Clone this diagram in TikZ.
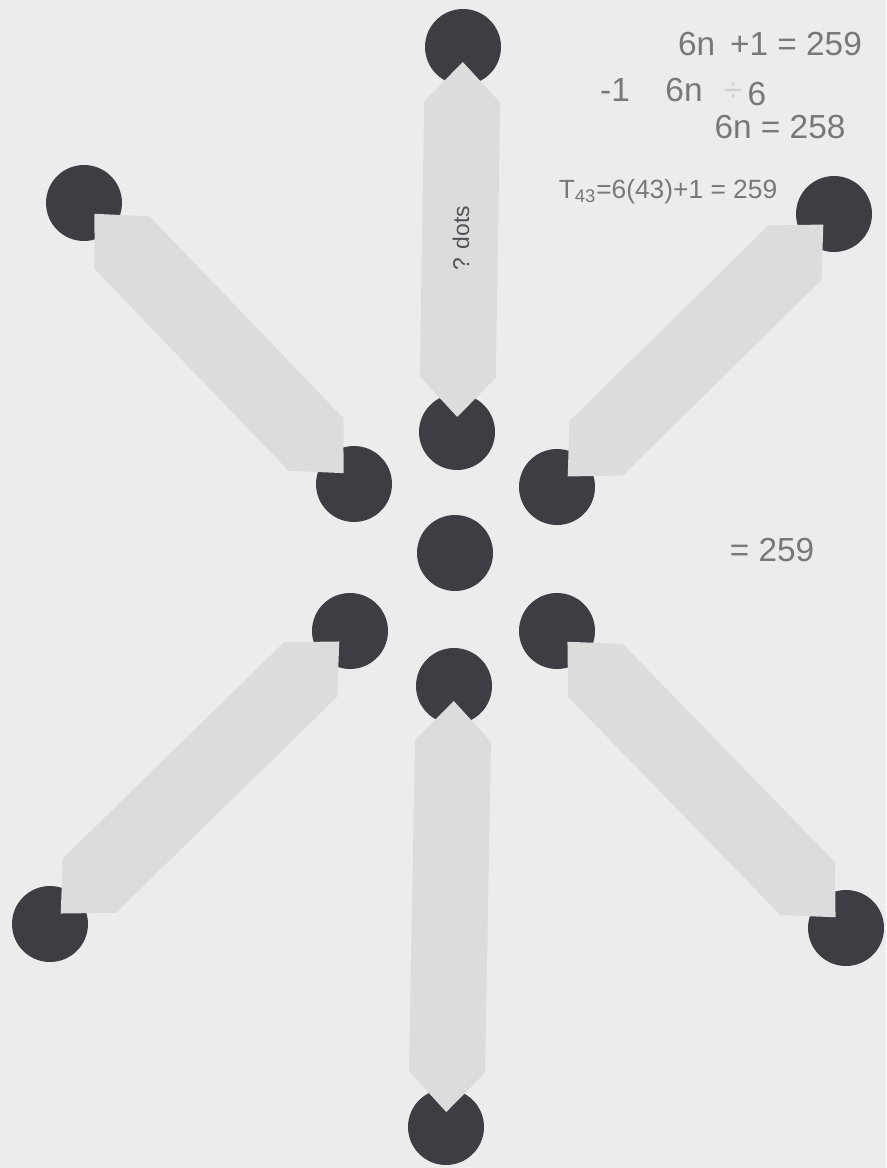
\documentclass[tikz,border=0pt]{standalone}
\usepackage{fontspec}
\setmainfont{Liberation Sans}
\usetikzlibrary{calc}
\definecolor{paper}{RGB}{236,236,236}
\definecolor{barfill}{RGB}{220,220,220}
\definecolor{ink}{RGB}{60,62,68}
\definecolor{pencil}{RGB}{120,120,120}
\begin{document}
\begin{tikzpicture}[x=0.02cm,y=-0.02cm,
  dot/.style={circle,fill=ink,minimum size=1.52cm,inner sep=0pt},
  bar/.style={fill=barfill},
  hand/.style={text=pencil,font=\fontsize{19}{21}\selectfont,inner sep=0pt}]
 \fill[paper] (0,0) rectangle (886,1168);
 \useasboundingbox (0,0) rectangle (886,1168);
 \node[dot] (c) at (455,553) {};
 \node[dot] (i1) at (457,432) {}; \node[dot] (o1) at (463,47) {};
 \node[dot] (i2) at (557,487) {}; \node[dot] (o2) at (834,214) {};
 \node[dot] (i3) at (557,631) {}; \node[dot] (o3) at (846,928) {};
 \node[dot] (i4) at (454,686) {}; \node[dot] (o4) at (446,1127) {};
 \node[dot] (i5) at (350,631) {}; \node[dot] (o5) at (50,924) {};
 \node[dot] (i6) at (354,484) {}; \node[dot] (o6) at (84,203) {};
 \foreach \a/\b in {i1/o1,i2/o2,i3/o3,i4/o4,i5/o5,i6/o6}{
  \coordinate (s) at ($(\a)!1.1cm!(\b)$);
  \coordinate (t) at ($(\b)!1.1cm!(\a)$);
  \fill[bar] ($(\a)!0.3cm!(\b)$) -- ($(s)!0.76cm!90:(\b)$) -- ($(t)!0.76cm!-90:(\a)$)
   -- ($(\b)!0.3cm!(\a)$) -- ($(t)!0.76cm!90:(\a)$) -- ($(s)!0.76cm!-90:(\b)$) -- cycle;
 }
 \node[rotate=90,font=\fontsize{13}{15}\selectfont,text=ink!90] (q) at (461,238) {? dots};
 \node[hand] (l1) at (770,44) {6n \,+1 = 259};
 \node[hand] (l2a) at (615,90) {-1};
 \node[hand] (l2b) at (684,90) {6n};
 \node[hand,text=pencil!35] (l2c) at (733,92) {÷};
 \node[hand] (l2d) at (757,94) {6};
 \node[hand] (l3) at (780,127) {6n = 258};
 \node[hand,font=\fontsize{15}{17}\selectfont] (l4) at (668,192) {T\textsubscript{43}=6(43)+1 = 259};
 \node[hand] (l5) at (772,550) {= 259};
\end{tikzpicture}
\end{document}
